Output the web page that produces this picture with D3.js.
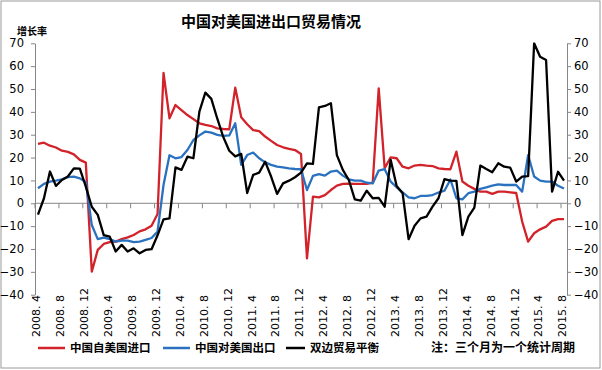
<!DOCTYPE html>
<html>
<head>
<meta charset="utf-8">
<script src="https://cdn.jsdelivr.net/npm/d3@7"></script>
<style>
  body { margin: 0; background: #fff; }
  text { font-family: "DejaVu Sans", sans-serif; }
  .cjk { font-family: "Noto Sans CJK SC", sans-serif; }
</style>
</head>
<body>
<script>
// monthly, 2008.4 - 2015.8 (3-month rolling growth, %)
var importUS = [26, 26.5, 25.2, 24.4, 23, 22.5, 21.4, 19, 17.8, -29.9,
  -20.4, -17.8, -17, -16.8, -15.7, -14.9, -13.9, -12.3, -11.4, -9.8,
  -4.7, 57, 37.2, 43, 40.8, 38.6, 36.8, 35, 34.3, 33.8,
  32.8, 32.5, 32.4, 50.6, 37.6, 34.6, 32, 31.6, 29.2, 27.3,
  25.5, 24.5, 23.8, 23.3, 21.6, -24.1, 2.9, 2.6, 3.6, 5.8,
  7.7, 8.5, 8.6, 8.5, 8.5, 8.5, 9, 50.3, 15.3, 20.1,
  19.7, 16, 15.3, 16.5, 16.8, 16.5, 16.3, 15.3, 15, 14.9,
  22.6, 9.5, 7.7, 6.3, 5.1, 5.1, 4.1, 5.1, 5.1, 4.8,
  4.5, -8, -16.8, -13.1, -11.4, -10.2, -7.7, -6.9, -6.9]

var exportUS = [6.6, 8.5, 9.5, 9.9, 10.5, 11.4, 11.7, 10.9, 9.3, -9.5,
  -15.7, -15, -15.7, -16.8, -16.3, -16.3, -17, -16.8, -16, -15.2,
  -12.4, 8, 21, 19.7, 20.2, 23.3, 27.7, 29.7, 31.4, 30.9,
  29.9, 29.5, 29.7, 35, 16.8, 21.1, 22.2, 19.7, 17.9, 16.8,
  16, 15.7, 15.3, 15, 14.9, 5.8, 12, 12.8, 12.1, 13.9,
  14.3, 12.1, 10.5, 9.9, 9.9, 9, 8.7, 14.3, 14.9, 9.5,
  7, 4.8, 2.6, 2.2, 3.2, 3.2, 3.6, 4.7, 5.5, 10.4,
  2.2, 1.7, 4.4, 5.1, 6.3, 7, 7.7, 8.3, 8, 8,
  8, 5.1, 21.1, 11.7, 9.9, 9.5, 9.5, 7.7, 6.5]

var balance = [-5, 2.2, 13.9, 7.6, 10.2, 11.7, 15.3, 15.2, 7.3, -1.5,
  -5.1, -13.9, -14.6, -21.1, -18.2, -21.1, -19.7, -21.9, -20.4, -20.1,
  -14, -7, -6.6, 15.7, 14.6, 20.4, 19.7, 40.1, 48.4, 45.7,
  37, 29, 23, 20.5, 21.6, 4.5, 12.4, 13.4, 18.2, 11.7,
  4.1, 8.7, 9.9, 11.4, 13.4, 17.5, 17.2, 42, 42.6, 43.8,
  21.1, 14.6, 10.2, 1.7, 1.2, 5.5, 2.2, 2.4, -1.5, 19,
  7.6, 4.4, -15.7, -9.8, -6.6, -5.8, -1.5, 2.2, 10.6, 9.9,
  9.8, -13.9, -5.8, -1.9, 16.5, 15, 13.6, 17.5, 16, 15.6,
  9.5, 11.7, 11.9, 70, 64.1, 62.7, 5.1, 13.8, 9.9]

var tickLabels = ["2008. 4", "2008. 8", "2008. 12", "2009. 4", "2009. 8", "2009. 12",
  "2010. 4", "2010. 8", "2010. 12", "2011. 4", "2011. 8", "2011. 12",
  "2012. 4", "2012. 8", "2012. 12", "2013. 4", "2013. 8", "2013. 12",
  "2014. 4", "2014. 8", "2014. 12", "2015. 4", "2015. 8"]

var yTicks = [-40, -30, -20, -10, 0, 10, 20, 30, 40, 50, 60, 70]

var seriesNames = ["中国自美国进口", "中国对美国出口", "双边贸易平衡"]
var seriesColors = ["#d2232a", "#2a72c0", "#000000"]

var months = []
for (var k = 0; k < importUS.length; k++) {
  var mm = 4 + k
  months.push((2008 + Math.floor((mm - 1) / 12)) + ". " + (((mm - 1) % 12) + 1))
}

var width = 602
var height = 370
var plotLeft = 35, plotRight = 567, plotTop = 43.3, plotBottom = 294.7

var svg = d3.select("body")
            .append("svg")
            .attr("width", width)
            .attr("height", height)

svg.append("rect")
    .attr("x", 1).attr("y", 1)
    .attr("width", 599).attr("height", 367)
    .attr("fill", "#fff")
    .attr("stroke", "#9a9a9a")
    .attr("stroke-width", 1)

var xScale = d3.scaleBand()
                .domain(months)
                .range([plotLeft, plotRight])

var yScale = d3.scaleLinear()
                .domain([-40, 70])
                .range([plotBottom, plotTop])

var xMid = function(i){ return xScale(months[i]) + xScale.bandwidth() / 2 }

// title
svg.append("text")
    .attr("class", "cjk")
    .attr("x", 271).attr("y", 27)
    .attr("text-anchor", "middle")
    .attr("font-size", 15)
    .attr("font-weight", "bold")
    .text("中国对美国进出口贸易情况")

svg.append("text")
    .attr("class", "cjk")
    .attr("x", 17).attr("y", 35)
    .attr("font-size", 10)
    .attr("font-weight", "bold")
    .text("增长率")

// axes
var yAxisL = d3.axisLeft(yScale).tickValues(yTicks).tickSize(4).tickSizeOuter(0).tickPadding(7)
var yAxisR = d3.axisRight(yScale).tickValues(yTicks).tickSize(4).tickSizeOuter(0).tickPadding(3)

svg.append("g")
    .attr("class", "axis")
    .attr("transform", "translate(" + plotLeft + ",0)")
    .call(yAxisL)

svg.append("g")
    .attr("class", "axis")
    .attr("transform", "translate(" + plotRight + ",0)")
    .call(yAxisR)

svg.selectAll(".axis path, .axis line").attr("stroke", "#868686")
svg.selectAll(".axis text").attr("font-size", 11.5).attr("fill", "#000")
    .attr("font-family", "DejaVu Sans, sans-serif")

// zero line with category ticks
svg.append("line")
    .attr("x1", plotLeft).attr("x2", plotRight)
    .attr("y1", yScale(0)).attr("y2", yScale(0))
    .attr("stroke", "#868686")

var tickMonths = months.filter(function(m){ return tickLabels.indexOf(m) >= 0 })

svg.selectAll(".xtick")
    .data(tickMonths)
    .enter()
    .append("line")
    .attr("class", "xtick")
    .attr("x1", function(d){ return xScale(d) })
    .attr("x2", function(d){ return xScale(d) })
    .attr("y1", yScale(0))
    .attr("y2", yScale(0) + 5)
    .attr("stroke", "#868686")

svg.selectAll(".xlabel")
    .data(tickMonths)
    .enter()
    .append("text")
    .attr("class", "xlabel")
    .attr("transform", function(d){
      return "translate(" + (xScale(d) + 1.5) + ",337) rotate(-90)"
    })
    .attr("dy", "0.35em")
    .attr("font-size", 11)
    .text(function(d){ return d })

// lines
svg.append("clipPath").attr("id", "plot")
    .append("rect")
    .attr("x", plotLeft).attr("y", plotTop - 1)
    .attr("width", plotRight - plotLeft).attr("height", plotBottom - plotTop + 2)

var line = d3.line()
              .x(function(d, i){ return xMid(i) })
              .y(function(d){ return yScale(d) })

var allSeries = [importUS, exportUS, balance]

svg.append("g")
    .attr("clip-path", "url(#plot)")
    .selectAll("path")
    .data(allSeries)
    .enter()
    .append("path")
    .attr("d", function(d){ return line(d) })
    .attr("fill", "none")
    .attr("stroke", function(d, i){ return seriesColors[i] })
    .attr("stroke-width", 2.3)
    .attr("stroke-linejoin", "round")

// legend
var legendX = [38, 163, 286]
var legendLen = [27, 27, 19]
var legend = svg.selectAll(".legend")
                .data(seriesNames)
                .enter()
                .append("g")
                .attr("class", "legend")
                .attr("transform", function(d, i){ return "translate(" + legendX[i] + ",348)" })

legend.append("line")
    .attr("x1", 0).attr("x2", function(d, i){ return legendLen[i] })
    .attr("stroke", function(d, i){ return seriesColors[i] })
    .attr("stroke-width", 2.5)

legend.append("text")
    .attr("class", "cjk")
    .attr("x", function(d, i){ return legendLen[i] + 5 })
    .attr("dy", "0.36em")
    .attr("font-size", 11.5)
    .attr("font-weight", "bold")
    .text(function(d){ return d })

svg.append("text")
    .attr("class", "cjk")
    .attr("x", 431).attr("y", 348)
    .attr("dy", "0.36em")
    .attr("font-size", 12)
    .attr("font-weight", "bold")
    .text("注：三个月为一个统计周期")
</script>
</body>
</html>
